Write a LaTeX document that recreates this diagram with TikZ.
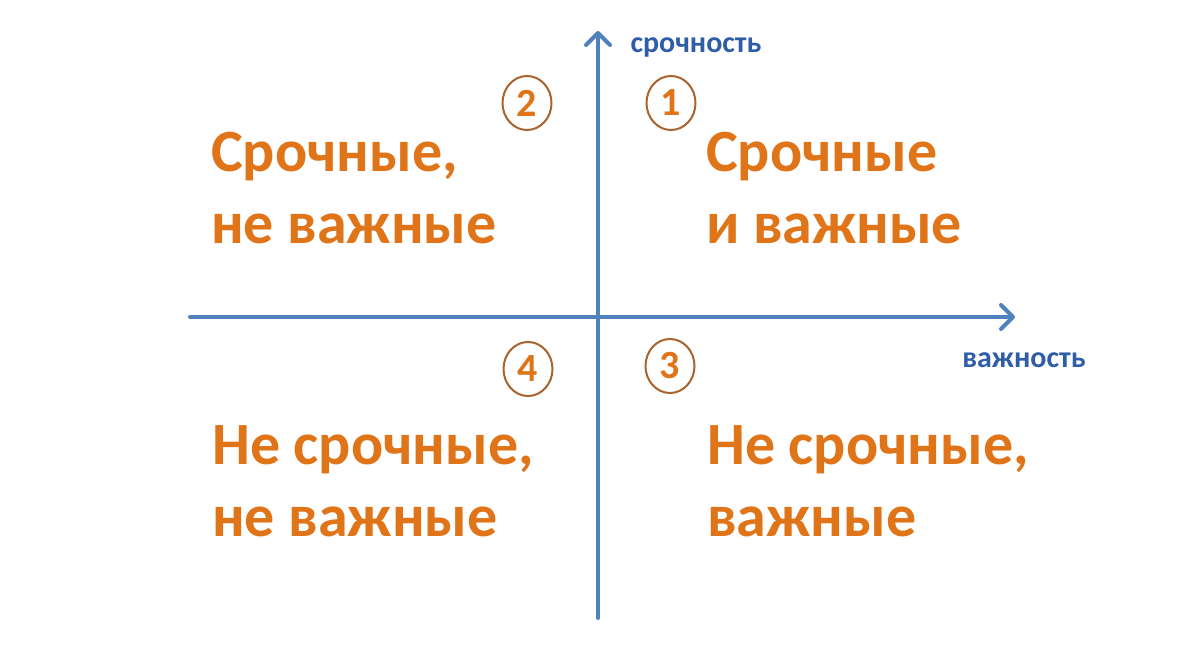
\documentclass[tikz,border=0pt]{standalone}
\usepackage{fontspec}
\setmainfont{Carlito}
\usetikzlibrary{arrows.meta,shapes.geometric}
\definecolor{axisblue}{HTML}{4F81BD}
\definecolor{labelblue}{HTML}{2F5DA8}
\definecolor{txtorange}{HTML}{E07418}
\definecolor{ringbrown}{HTML}{A9642E}
\tikzset{
  axis/.style={draw=axisblue,line width=4pt,line cap=round,-{Straight Barb[length=12pt,width=24pt,line cap=round,line join=round]}},
  axlabel/.style={text=labelblue,font=\bfseries\fontsize{30}{34}\selectfont,inner sep=0pt},
  quad/.style={text=txtorange,font=\bfseries\fontsize{60}{72}\selectfont,align=left,anchor=base west,inner sep=0pt},
  ring/.style={ellipse,draw=ringbrown,line width=2pt,minimum width=49pt,minimum height=54pt,inner sep=0pt,text=txtorange,font=\bfseries\fontsize{40}{42}\selectfont},
}
\begin{document}
\begin{tikzpicture}[x=1pt,y=-1pt]
\useasboundingbox[fill=white] (0,0) rectangle (1200,664);
\coordinate (vb) at (598,618);
\coordinate (vt) at (598,31);
\coordinate (hl) at (190,317);
\coordinate (hr) at (1015,317);
\draw[axis] (vb) -- (vt);
\draw[axis] (hl) -- (hr);
\node[axlabel] (ly) at (696,47) {срочность};
\node[axlabel] (lx) at (1024,360) {важность};
\node[ring] (c2) at (527,103) {2};
\node[ring] (c1) at (671,103) {1};
\node[ring] (c4) at (528,369) {4};
\node[ring] (c3) at (670,366) {3};
\node[quad] (q2) at (211,243) {Срочные,\\не важные};
\node[quad] (q1) at (706,243) {Срочные\\и важные};
\node[quad] (q4) at (212,536) {Не срочные,\\не важные};
\node[quad] (q3) at (707,536) {Не срочные,\\важные};
\end{tikzpicture}
\end{document}
